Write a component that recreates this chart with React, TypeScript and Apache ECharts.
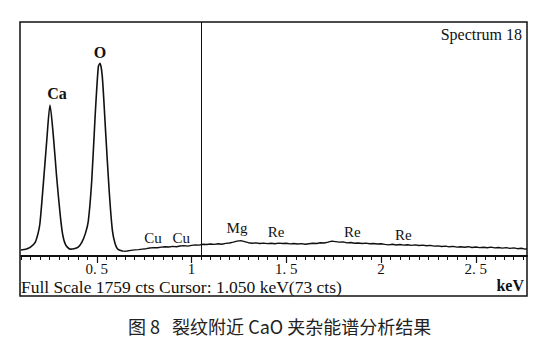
import React, { useEffect, useRef } from "react";
import * as echarts from "echarts";

// Spectrum: [energy keV, counts]
const peakRegion: [number, number][] = [
  [0.1, 45], [0.125, 50], [0.15, 66], [0.174, 100], [0.19, 170], [0.2, 246], [0.218, 546], [0.236, 870],
  [0.253, 1135], [0.271, 897], [0.288, 596], [0.306, 321], [0.32, 160], [0.335, 85],
  [0.359, 52], [0.38, 54], [0.40, 64], [0.42, 100], [0.44, 170], [0.455, 260], [0.473, 560],
  [0.491, 1047], [0.508, 1423], [0.517, 1449], [0.529, 1348], [0.547, 922],
  [0.565, 496], [0.582, 195], [0.597, 90], [0.612, 50], [0.64, 35],
];
const background: [number, number][] = [
  [0.64, 35], [0.66, 38], [0.68, 42], [0.70, 46], [0.72, 48], [0.74, 52], [0.76, 55],
  [0.78, 60], [0.80, 63], [0.82, 62], [0.84, 67], [0.86, 70], [0.88, 68], [0.90, 72],
  [0.92, 70], [0.94, 75], [0.96, 78], [0.98, 74], [1.00, 80], [1.02, 84], [1.04, 82],
  [1.06, 88], [1.08, 86], [1.10, 90], [1.12, 87], [1.14, 92], [1.16, 88], [1.18, 95],
  [1.20, 98], [1.22, 104], [1.24, 112], [1.26, 116], [1.28, 108], [1.30, 100],
  [1.32, 96], [1.34, 99], [1.36, 94], [1.38, 97], [1.40, 93], [1.42, 96], [1.44, 92],
  [1.46, 97], [1.48, 94], [1.50, 96], [1.52, 91], [1.54, 94], [1.56, 90], [1.58, 93],
  [1.60, 88], [1.62, 92], [1.64, 96], [1.66, 94], [1.68, 100], [1.70, 98], [1.72, 104],
  [1.74, 112], [1.76, 108], [1.78, 104], [1.80, 106], [1.82, 99], [1.84, 101],
  [1.86, 96], [1.88, 98], [1.90, 94], [1.92, 97], [1.94, 92], [1.96, 94], [1.98, 90],
  [2.00, 92], [2.02, 87], [2.04, 84], [2.06, 88], [2.08, 83], [2.10, 86], [2.12, 82],
  [2.14, 85], [2.16, 80], [2.18, 84], [2.20, 79], [2.22, 82], [2.24, 77], [2.26, 80],
  [2.28, 74], [2.30, 76], [2.32, 71], [2.34, 74], [2.36, 69], [2.38, 72], [2.40, 67],
  [2.42, 70], [2.44, 66], [2.46, 70], [2.48, 64], [2.50, 68], [2.52, 63], [2.54, 66],
  [2.56, 62], [2.58, 67], [2.60, 61], [2.62, 64], [2.64, 59], [2.66, 63], [2.68, 57],
  [2.70, 61], [2.72, 55], [2.74, 58], [2.76, 52], [2.77, 54],
];

// Peak labels: [name, keV, counts] at label centre
const peakLabels: [string, number, number][] = [
  ["Ca", 0.29, 1218],
  ["O", 0.517, 1533],
  ["Cu", 0.797, 135],
  ["Cu", 0.945, 135],
  ["Mg", 1.24, 210],
  ["Re", 1.446, 180],
  ["Re", 1.848, 180],
  ["Re", 2.117, 158],
];

const majorTicks = [0.5, 1, 1.5, 2, 2.5];
const majorTickLabels = ["0. 5", "1", "1. 5", "2", "2. 5"];
const minorTicks = [
  0.1, 0.15, 0.2, 0.25, 0.3, 0.35, 0.4, 0.45, 0.5, 0.55, 0.6, 0.65, 0.7, 0.75, 0.8,
  0.85, 0.9, 0.95, 1, 1.05, 1.1, 1.15, 1.2, 1.25, 1.3, 1.35, 1.4, 1.45, 1.5, 1.55,
  1.6, 1.65, 1.7, 1.75, 1.8, 1.85, 1.9, 1.95, 2, 2.05, 2.1, 2.15, 2.2, 2.25, 2.3,
  2.35, 2.4, 2.45, 2.5, 2.55, 2.6, 2.65, 2.7, 2.75,
];

const X_MIN = 0.1;
const X_MAX = 2.77;
const FULL_SCALE = 1759;
const CURSOR_KEV = 1.05;
const CURSOR_CTS = 73;

const title = "Spectrum 18";
const caption = "图 8   裂纹附近 CaO 夹杂能谱分析结果";

const SERIF = "'Liberation Serif', 'DejaVu Serif', serif";

export default function App() {
  const ref = useRef<HTMLDivElement>(null);
  useEffect(() => {
    if (!ref.current) return;
    const chart = echarts.init(ref.current, undefined, { renderer: "svg" });
    const grid = { left: 21, right: 31, top: 22, bottom: 96 };
    const option: any = {
      animation: false,
      backgroundColor: "#fff",
      grid: [grid, { ...grid }],
      xAxis: [
        {
          type: "value",
          gridIndex: 0,
          min: X_MIN,
          max: X_MAX,
          axisLine: { show: true, lineStyle: { color: "#111", width: 2 } },
          axisTick: { show: true, customValues: minorTicks, length: 4, lineStyle: { color: "#111", width: 1 } },
          axisLabel: {
            show: true,
            customValues: majorTicks,
            margin: 5,
            color: "#111",
            fontFamily: SERIF,
            fontSize: 15,
            lineHeight: 15,
            formatter: (v: number) => {
              const i = majorTicks.findIndex((m) => Math.abs(m - v) < 1e-6);
              return i >= 0 ? majorTickLabels[i] : "";
            },
          },
          splitLine: { show: false },
        },
        {
          type: "value",
          gridIndex: 1,
          min: X_MIN,
          max: X_MAX,
          axisLine: { show: false },
          axisTick: { show: true, customValues: majorTicks, length: 7, lineStyle: { color: "#111", width: 1.2 } },
          axisLabel: { show: false },
          splitLine: { show: false },
        },
      ],
      yAxis: [
        { type: "value", gridIndex: 0, min: 0, max: FULL_SCALE, show: false },
        { type: "value", gridIndex: 1, min: 0, max: FULL_SCALE, show: false },
      ],
      series: [
        {
          type: "line",
          xAxisIndex: 0,
          yAxisIndex: 0,
          data: peakRegion,
          smooth: 0.25,
          showSymbol: false,
          symbol: "none",
          lineStyle: { color: "#111", width: 1.6 },
          markPoint: {
            silent: true,
            symbol: "circle",
            symbolSize: 2,
            itemStyle: { color: "rgba(0,0,0,0)" },
            label: {
              show: true,
              position: "inside",
              color: "#111",
              fontFamily: SERIF,
              fontSize: 15,
              formatter: "{b}",
            },
            data: peakLabels.map(([name, x, y]) => ({
              name,
              coord: [x, y],
              label: name === "Ca" || name === "O" ? { fontWeight: "bold", fontSize: 16 } : {},
            })),
          },
        },
        {
          type: "line",
          xAxisIndex: 0,
          yAxisIndex: 0,
          data: background,
          showSymbol: false,
          symbol: "none",
          lineStyle: { color: "#111", width: 1.4 },
          markLine: {
            silent: true,
            symbol: ["none", "none"],
            label: { show: false },
            lineStyle: { color: "#111", width: 1, type: "solid" },
            data: [{ xAxis: CURSOR_KEV }],
          },
        },
      ],
      graphic: [
        {
          type: "rect",
          shape: { x: 20, y: 22, width: 507, height: 274 },
          style: { fill: "none", stroke: "#111", lineWidth: 1.5 },
          silent: true,
        },
        {
          type: "text",
          right: 558 - 522,
          top: 26,
          style: { text: title, fontFamily: SERIF, fontSize: 16, fill: "#111" },
        },
        {
          type: "text",
          left: 21,
          top: 278,
          style: {
            text: `Full Scale ${FULL_SCALE} cts Cursor: ${CURSOR_KEV.toFixed(3)} keV(${CURSOR_CTS} cts)`,
            fontFamily: SERIF,
            fontSize: 17.5,
            fill: "#111",
          },
        },
        {
          type: "text",
          right: 558 - 524,
          top: 277,
          style: { text: "keV", fontFamily: SERIF, fontSize: 16, fontWeight: "bold", fill: "#111" },
        },
        {
          type: "text",
          left: 128,
          top: 317,
          style: { text: caption, fontFamily: "'Noto Sans CJK SC', sans-serif", fontSize: 18, fill: "#222" },
        },
      ],
    };
    chart.setOption(option);
    return () => chart.dispose();
  }, []);
  return (
    <div
      ref={ref}
      style={{ position: "fixed", left: 0, top: 0, width: 558, height: 352, background: "#fff" }}
    />
  );
}
